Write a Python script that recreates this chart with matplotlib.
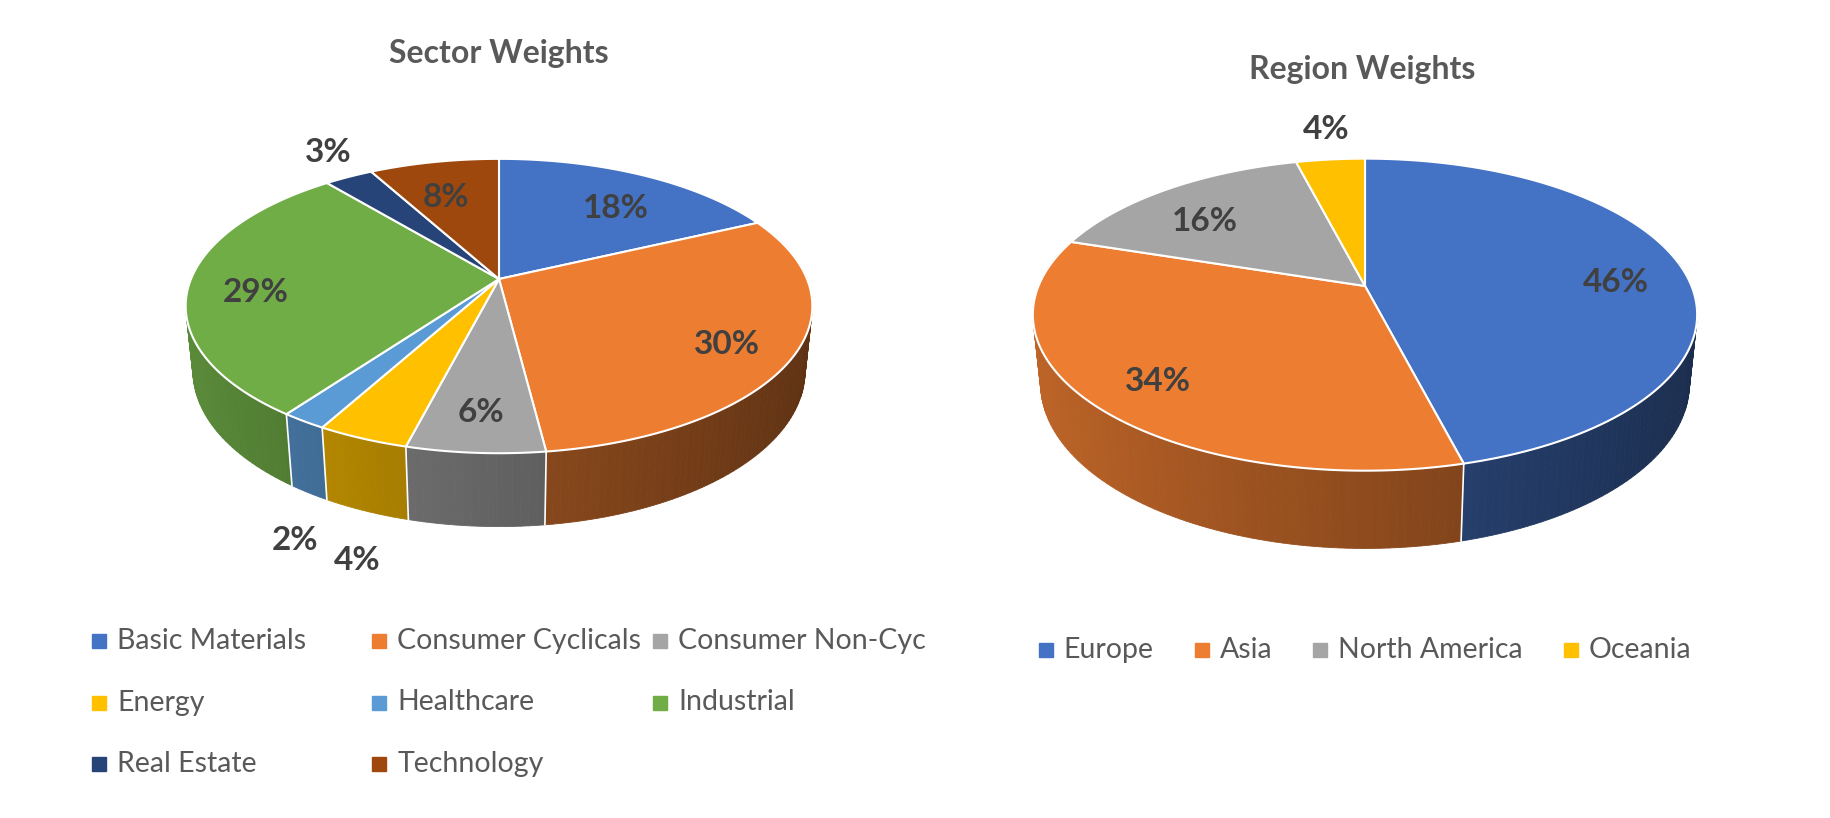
import numpy as np
import matplotlib
matplotlib.use("Agg")
import matplotlib.pyplot as plt
from matplotlib.patches import Polygon, Rectangle
from matplotlib.colors import to_rgb

# data
sectors = ["Basic Materials", "Consumer Cyclicals", "Consumer Non-Cyc",
           "Energy", "Healthcare", "Industrial", "Real Estate", "Technology"]
sector_vals = [18, 30, 6, 4, 2, 29, 3, 8]
sector_colors = ["#4472C4", "#ED7D31", "#A5A5A5", "#FFC000",
                 "#5B9BD5", "#70AD47", "#264478", "#9E480E"]

regions = ["Europe", "Asia", "North America", "Oceania"]
region_vals = [46, 34, 16, 4]
region_colors = ["#4472C4", "#ED7D31", "#A5A5A5", "#FFC000"]

FONT = "Lato"
TITLE_C = "#595959"
LABEL_C = "#404040"

# camera for the fake 3d pies
ELEV = np.radians(27.5)
DIST = 4.83
DEPTH = 0.24


def project(x, y, z, cx, cy, k):
    ce, se = np.cos(ELEV), np.sin(ELEV)
    x, y, z = np.asarray(x, float), np.asarray(y, float), np.asarray(z, float)
    u = y * ce - z * se
    w = z * ce + y * se
    f = DIST / (DIST - w)
    return cx + k * x * f, cy - k * u * f


def pie3d(ax, vals, colors, cx, cy, k):
    vals = np.asarray(vals, float)
    edges = np.concatenate([[0], np.cumsum(vals) / vals.sum()]) * 2 * np.pi

    # side wall, split in thin pieces so it can be shaded
    walls = []
    for i in range(len(vals)):
        th = np.linspace(edges[i], edges[i + 1], max(4, int(vals[i] * 3)))
        for a, b in zip(th[:-1], th[1:]):
            m = (a + b) / 2
            depth = -np.cos(m)
            if depth < -0.3:
                continue
            ang = np.array([a, b, b, a])
            px, py = project(np.sin(ang), [0, 0, -DEPTH, -DEPTH], -np.cos(ang), cx, cy, k)
            shade = 0.6 - 0.21 * np.sin(m)
            col = np.clip(np.array(to_rgb(colors[i])) * shade, 0, 1)
            walls.append((depth, px, py, col))
    walls.sort(key=lambda t: t[0])
    for _, px, py, col in walls:
        ax.add_patch(Polygon(np.column_stack([px, py]), closed=True,
                             fc=col, ec=col, lw=0.6))
    for e in edges[:-1]:
        if -np.cos(e) > -0.1:
            px, py = project(np.sin([e, e]), [0, -DEPTH], -np.cos([e, e]), cx, cy, k)
            ax.plot(px, py, color="white", lw=1.2)

    # top face
    for i in range(len(vals)):
        th = np.linspace(edges[i], edges[i + 1], 120)
        xs = np.concatenate([[0], np.sin(th)])
        zs = np.concatenate([[0], -np.cos(th)])
        px, py = project(xs, np.zeros_like(xs), zs, cx, cy, k)
        ax.add_patch(Polygon(np.column_stack([px, py]), closed=True,
                             fc=colors[i], ec="white", lw=1.5, joinstyle="round"))

    # data labels
    for i in range(len(vals)):
        mid = (edges[i] + edges[i + 1]) / 2
        pct = vals[i] / vals.sum() * 100
        if pct >= 5:
            r = 0.75
            lx, ly = project(r * np.sin(mid) * 1.05, 0, -r * np.cos(mid), cx, cy, k)
        else:
            yy = -DEPTH if -np.cos(mid) > 0 else 0
            px, py = project(np.sin(mid), yy, -np.cos(mid), cx, cy, k)
            d = np.array([(px - cx) * 0.4, py - cy])
            d = d / np.hypot(*d) * 40
            lx, ly = px + d[0], py + d[1]
        ax.text(lx, ly + 10, f"{pct:.0f}%", ha="center", va="center",
                fontsize=24, fontweight="bold", color=LABEL_C, family=FONT)


fig = plt.figure(figsize=(18.31, 8.18), dpi=100)
ax = fig.add_axes([0, 0, 1, 1])
ax.set_xlim(0, 1831)
ax.set_ylim(818, 0)
ax.axis("off")

# left chart
ax.text(499, 53, "Sector Weights", ha="center", va="center", fontsize=23,
        fontweight="bold", color=TITLE_C, family=FONT)
pie3d(ax, sector_vals, sector_colors, 499, 279, 308)

for idx, name in enumerate(sectors):
    row, col = divmod(idx, 3)
    mx = 92 + 280.5 * col
    my = 641 + 61.5 * row
    ax.add_patch(Rectangle((mx, my - 7), 14, 14, color=sector_colors[idx]))
    ax.text(mx + 25, my, name, ha="left", va="center", fontsize=20.5,
            color=TITLE_C, family=FONT)

# right chart
ax.text(1362, 70, "Region Weights", ha="center", va="center", fontsize=23,
        fontweight="bold", color=TITLE_C, family=FONT)
pie3d(ax, region_vals, region_colors, 1365, 286, 326.5)

renderer = fig.canvas.get_renderer()
texts = [ax.text(0, 650, name, ha="left", va="center", fontsize=20.5,
                 color=TITLE_C, family=FONT) for name in regions]
widths = [t.get_window_extent(renderer).width for t in texts]
gap, mark = 41, 25
total = sum(mark + w for w in widths) + gap * (len(regions) - 1)
x = 1365 - total / 2
for t, w, c in zip(texts, widths, region_colors):
    ax.add_patch(Rectangle((x, 650 - 7), 14, 14, color=c))
    t.set_x(x + mark)
    x += mark + w + gap

fig.savefig("out.png", dpi=100)
